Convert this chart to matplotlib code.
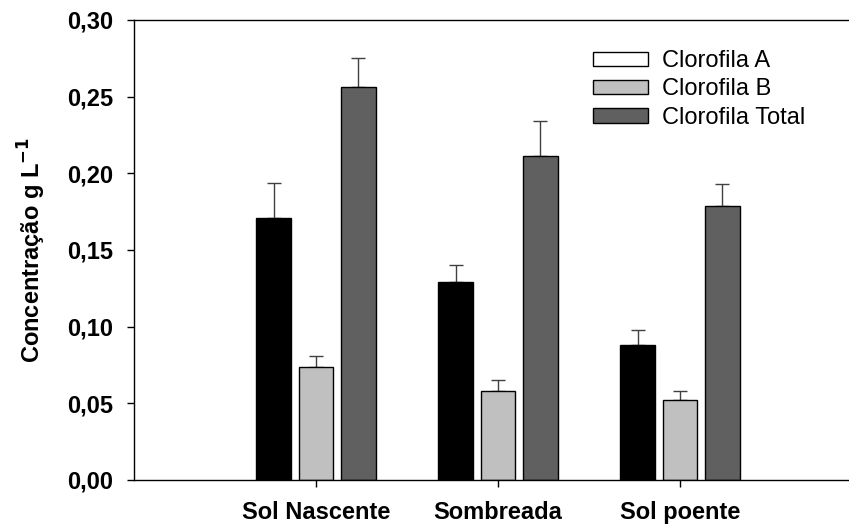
import matplotlib
matplotlib.use("Agg")
import matplotlib.pyplot as plt
from matplotlib.patches import Patch
import numpy as np

plt.rcParams['font.family'] = ['Liberation Sans', 'DejaVu Sans']

categories = ["Sol Nascente", "Sombreada", "Sol poente"]
series_names = ["Clorofila A", "Clorofila B", "Clorofila Total"]
clor_a = [0.171, 0.129, 0.088]
clor_a_err = [0.023, 0.011, 0.010]
clor_b = [0.074, 0.058, 0.052]
clor_b_err = [0.007, 0.007, 0.006]
clor_total = [0.256, 0.211, 0.179]
clor_total_err = [0.019, 0.023, 0.014]
y_ticks = [0.00, 0.05, 0.10, 0.15, 0.20, 0.25, 0.30]
y_tick_labels = ["0,00", "0,05", "0,10", "0,15", "0,20", "0,25", "0,30"]

bar_colors = ["#000000", "#c0c0c0", "#606060"]
legend_colors = ["#ffffff", "#c0c0c0", "#606060"]

fig = plt.figure(figsize=(8.49, 5.25), dpi=100)
ax = fig.add_axes([134/849, 45/525, 715/849, 460/525])

x = np.arange(1, len(categories) + 1)
offsets = [-0.2335, 0.0, 0.2335]
width = 0.19
values = [clor_a, clor_b, clor_total]
errs = [clor_a_err, clor_b_err, clor_total_err]
for vals, err, off, col in zip(values, errs, offsets, bar_colors):
    ax.bar(x + off, vals, width, color=col, edgecolor="black", linewidth=1.0, zorder=2)
    ax.errorbar(x + off, vals, yerr=[np.zeros(len(err)), err], fmt="none",
                ecolor="#404040", elinewidth=1.0, capsize=5, capthick=1.0, zorder=1)

ax.set_xlim(0, 715/182)
ax.set_ylim(0, 0.30)
ax.set_xticks(x)
ax.set_xticklabels(categories, fontsize=17, fontweight="bold")
ax.set_yticks(y_ticks)
ax.set_yticklabels(y_tick_labels, fontsize=17, fontweight="bold")
ax.tick_params(axis="y", direction="out", length=5, width=1.0, pad=10)
ax.tick_params(axis="x", direction="out", length=5, width=1.0, pad=10)
ax.spines["right"].set_visible(False)
for s in ["left", "top", "bottom"]:
    ax.spines[s].set_linewidth(1.0)

fig.text(32/849, 1 - 250/525, "Concentração g L$^{\\mathbf{-1}}$", rotation=90,
         ha="center", va="center", fontsize=17, fontweight="bold")

handles = [Patch(facecolor=c, edgecolor="black", linewidth=1.0) for c in legend_colors]
leg = ax.legend(handles, series_names, loc="upper left",
                bbox_to_anchor=(593/849, 1 - 50/525), bbox_transform=fig.transFigure,
                frameon=False, fontsize=17, handlelength=2.33, handleheight=0.55,
                handletextpad=0.6, labelspacing=0.27, borderpad=0, borderaxespad=0)

fig.savefig("out.png", dpi=100)
